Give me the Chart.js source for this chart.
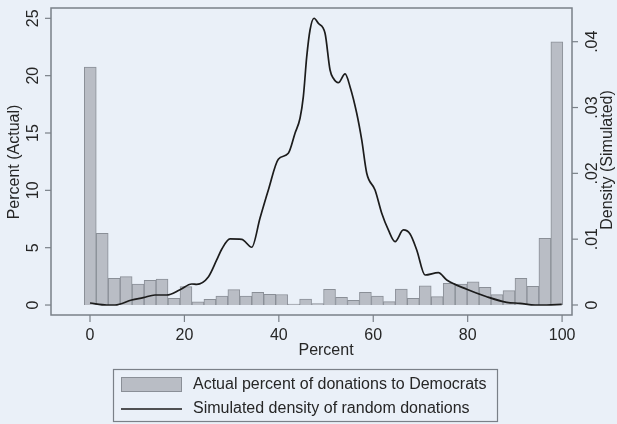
<!DOCTYPE html>
<html>
<head>
<meta charset="utf-8">
<script src="https://cdn.jsdelivr.net/npm/chart.js@4.4.0/dist/chart.umd.min.js"></script>
<style>
  html, body { margin: 0; padding: 0; background: #eaf0f8; }
  #wrap { width: 617px; height: 424px; }
</style>
</head>
<body>
<div id="wrap"><canvas id="c" width="617" height="424"></canvas></div>
<script>
// ---- data ----
const binCenters = [0.06, 2.59, 5.13, 7.66, 10.19, 12.73, 15.26, 17.80, 20.33, 22.87,
  25.40, 27.93, 30.47, 33.00, 35.54, 38.07, 40.60, 43.14, 45.67, 48.21,
  50.74, 53.28, 55.81, 58.34, 60.88, 63.41, 65.95, 68.48, 71.01, 73.55,
  76.08, 78.62, 81.15, 83.69, 86.22, 88.75, 91.29, 93.82, 96.36, 98.89];
const actualPercent = [20.75, 6.25, 2.33, 2.47, 1.83, 2.15, 2.27, 0.58, 1.60, 0.27,
  0.50, 0.78, 1.34, 0.78, 1.10, 0.93, 0.92, 0.08, 0.52, 0.12,
  1.37, 0.68, 0.42, 1.10, 0.78, 0.30, 1.39, 0.58, 1.68, 0.73,
  1.89, 1.82, 2.03, 1.54, 0.90, 1.25, 2.33, 1.63, 5.82, 22.96];
const densityX = [0, 3.54, 5.30, 8.83, 11.29, 13.77, 16.25, 19.07, 21.55, 22.60,
  25.06, 26.84, 27.90, 29.66, 32.14, 34.26, 36.02, 37.78, 39.89, 42.01,
  43.43, 44.49, 45.19, 45.91, 46.61, 47.46, 48.37, 49.79, 50.85, 51.55,
  52.60, 54.03, 55.08, 56.50, 57.56, 58.62, 60.38, 61.80, 63.20, 64.62,
  66.38, 67.80, 69.21, 70.97, 73.79, 75.57, 79.81, 84.04, 88.28, 91.10,
  94.28, 96.76, 99.93];
const densityY = [0.0003, 0.0000, 0.0000, 0.00076, 0.00111, 0.00152, 0.00152, 0.00232, 0.00319, 0.00314,
  0.00425, 0.00684, 0.00846, 0.01003, 0.00998, 0.00877, 0.01322, 0.01747, 0.02214, 0.02305,
  0.02609, 0.02837, 0.03165, 0.03772, 0.04178, 0.04356, 0.04280, 0.04128, 0.03570, 0.03444,
  0.03377, 0.03510, 0.03317, 0.02913, 0.02507, 0.02001, 0.01747, 0.01393, 0.01140, 0.00962,
  0.01140, 0.01079, 0.00836, 0.00456, 0.00491, 0.00380, 0.00239, 0.00126, 0.00041, 0.00026,
  0.0000, 0.0000, 0.0001];
const xTicks = [0, 20, 40, 60, 80, 100];
const leftTicks = [0, 5, 10, 15, 20, 25];
const rightTicks = [0, 0.01, 0.02, 0.03, 0.04];
const rightTickLabels = ['0', '.01', '.02', '.03', '.04'];
const xTitle = 'Percent';
const leftTitle = 'Percent (Actual)';
const rightTitle = 'Density (Simulated)';
const legendLabels = ['Actual percent of donations to Democrats', 'Simulated density of random donations'];

// ---- style ----
const BG = '#eaf0f8';
const BAR_FILL = '#b9bdc5';
const BAR_EDGE = '#8a8f97';
const LINE = '#1c1c1c';
const FRAME = '#7a8088';
const TXT = '#262626';
const FONT = '16px "Liberation Sans", Arial, sans-serif';

const decor = {
  id: 'decor',
  beforeDraw(chart) {
    const ctx = chart.ctx;
    ctx.save();
    ctx.fillStyle = BG;
    ctx.fillRect(0, 0, chart.width, chart.height);
    ctx.restore();
  },
  afterDraw(chart) {
    const ctx = chart.ctx;
    const a = chart.chartArea;
    const sx = chart.scales.x, sy = chart.scales.y, sy2 = chart.scales.y2;
    ctx.save();
    // frame
    ctx.strokeStyle = FRAME;
    ctx.lineWidth = 1.5;
    ctx.strokeRect(a.left, a.top, a.right - a.left, a.bottom - a.top);
    // ticks
    ctx.lineWidth = 1.2;
    ctx.fillStyle = TXT;
    ctx.font = FONT;
    ctx.textAlign = 'center';
    ctx.textBaseline = 'middle';
    xTicks.forEach(v => {
      const px = sx.getPixelForValue(v);
      ctx.beginPath(); ctx.moveTo(px, a.bottom); ctx.lineTo(px, a.bottom + 7); ctx.stroke();
      ctx.fillText(String(v), px, a.bottom + 21);
    });
    ctx.fillText(xTitle, (sx.getPixelForValue(0) + sx.getPixelForValue(100)) / 2, a.bottom + 36);
    leftTicks.forEach(v => {
      const py = sy.getPixelForValue(v);
      ctx.beginPath(); ctx.moveTo(a.left, py); ctx.lineTo(a.left - 6, py); ctx.stroke();
      ctx.save(); ctx.translate(a.left - 17, py); ctx.rotate(-Math.PI / 2);
      ctx.fillText(String(v), 0, 0); ctx.restore();
    });
    ctx.save(); ctx.translate(14.5, 162); ctx.rotate(-Math.PI / 2);
    ctx.fillText(leftTitle, 0, 0); ctx.restore();
    rightTicks.forEach((v, i) => {
      const py = sy2.getPixelForValue(v);
      ctx.beginPath(); ctx.moveTo(a.right, py); ctx.lineTo(a.right + 6, py); ctx.stroke();
      ctx.save(); ctx.translate(a.right + 21, py); ctx.rotate(-Math.PI / 2);
      ctx.fillText(rightTickLabels[i], 0, 0); ctx.restore();
    });
    ctx.save(); ctx.translate(608, 160); ctx.rotate(-Math.PI / 2);
    ctx.fillText(rightTitle, 0, 0); ctx.restore();
    // legend
    const lx = 113.5, ly = 369.5, lw = 384, lh = 52;
    ctx.strokeStyle = FRAME; ctx.lineWidth = 1.2;
    ctx.strokeRect(lx, ly, lw, lh);
    ctx.fillStyle = BAR_FILL; ctx.strokeStyle = BAR_EDGE; ctx.lineWidth = 1;
    ctx.fillRect(121, 377, 61, 15); ctx.strokeRect(121.5, 377.5, 60, 14);
    ctx.strokeStyle = LINE; ctx.lineWidth = 1.7;
    ctx.beginPath(); ctx.moveTo(121, 409); ctx.lineTo(182, 409); ctx.stroke();
    ctx.fillStyle = TXT; ctx.textAlign = 'left';
    ctx.fillText(legendLabels[0], 193, 385);
    ctx.fillText(legendLabels[1], 193, 409);
    ctx.restore();
  }
};

new Chart(document.getElementById('c'), {
  type: 'bar',
  data: {
    datasets: [
      {
        type: 'line',
        label: legendLabels[1],
        data: densityX.map((x, i) => ({ x: x, y: densityY[i] })),
        xAxisID: 'x', yAxisID: 'y2',
        borderColor: LINE, borderWidth: 1.7, pointRadius: 0,
        cubicInterpolationMode: 'monotone', fill: false,
        order: 0
      },
      {
        type: 'bar',
        label: legendLabels[0],
        data: binCenters.map((x, i) => ({ x: x, y: actualPercent[i] })),
        xAxisID: 'x', yAxisID: 'y',
        backgroundColor: BAR_FILL, borderColor: BAR_EDGE, borderWidth: 1,
        barPercentage: 1, categoryPercentage: 1,
        order: 1
      }
    ]
  },
  options: {
    responsive: false,
    animation: false,
    devicePixelRatio: 1,
    layout: { padding: { top: 8, left: 0, right: 0, bottom: 0 } },
    plugins: { legend: { display: false }, tooltip: { enabled: false } },
    scales: {
      x: {
        type: 'linear', position: 'bottom', min: -8.26, max: 102.1, offset: false,
        ticks: { display: false }, grid: { display: false }, border: { display: false },
        afterFit(s) { s.height = 109; }
      },
      y: {
        type: 'linear', position: 'left', min: -0.87, max: 25.9,
        ticks: { display: false }, grid: { display: false }, border: { display: false },
        afterFit(s) { s.width = 51; }
      },
      y2: {
        type: 'linear', position: 'right', min: -0.00152, max: 0.04512,
        ticks: { display: false }, grid: { display: false }, border: { display: false },
        afterFit(s) { s.width = 45; }
      }
    }
  },
  plugins: [decor]
});
</script>
</body>
</html>
